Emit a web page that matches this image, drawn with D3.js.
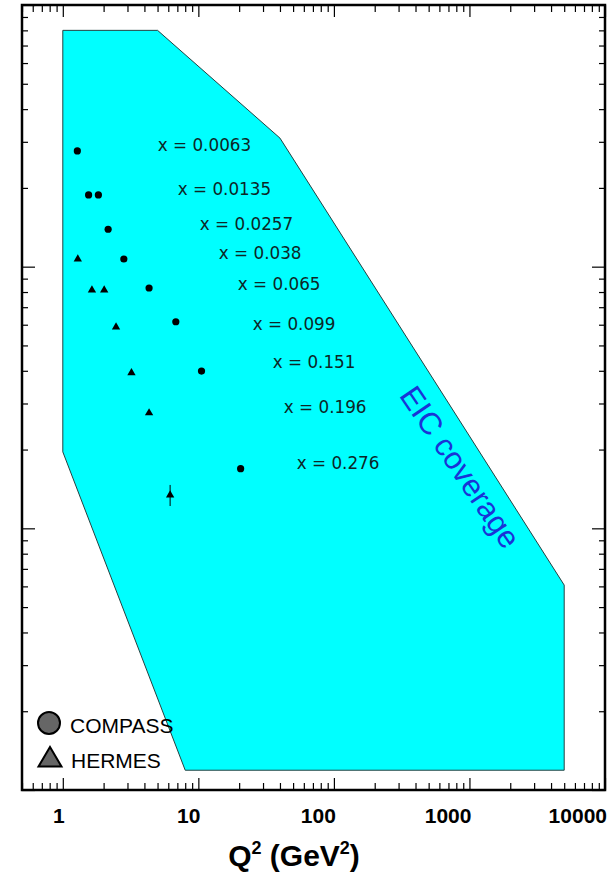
<!DOCTYPE html>
<html>
<head>
<meta charset="utf-8">
<script src="https://cdn.jsdelivr.net/npm/d3@7"></script>
<style>
  body { margin: 0; background: #fff; }
  svg { display: block; }
</style>
</head>
<body>
<svg id="chart" width="615" height="877"></svg>
<script>
// EIC kinematic coverage (outline vertices in Q², y)
const coverageQ2 = [1, 5, 40, 5000, 5000, 8, 1];
const coverageY  = [0.8, 0.8, 0.31, 0.00607, 0.00119, 0.00119, 0.0196];

// COMPASS points
const compassQ2 = [1.28, 1.55, 1.83, 2.16, 2.82, 4.33, 6.82, 10.55, 20.5];
const compassY  = [0.277, 0.188, 0.188, 0.139, 0.107, 0.0829, 0.0616, 0.0399, 0.0169];

// HERMES points (with vertical error band where visible)
const hermesQ2   = [1.29, 1.64, 2.02, 2.47, 3.21, 4.33, 6.19];
const hermesY    = [0.107, 0.0814, 0.0814, 0.0588, 0.0393, 0.0276, 0.0134];
const hermesYLow = [0.107, 0.0814, 0.0814, 0.0588, 0.0393, 0.0276, 0.01217];
const hermesYHigh= [0.107, 0.0814, 0.0814, 0.0588, 0.0393, 0.0276, 0.01465];

// x-bin annotations
const binLabels = ["x = 0.0063", "x = 0.0135", "x = 0.0257", "x = 0.038", "x = 0.065",
                   "x = 0.099", "x = 0.151", "x = 0.196", "x = 0.276"];
const binLabelQ2 = [5.02, 7.05, 10.25, 14.16, 19.55, 25.2, 35.4, 42.7, 53.2];
const binLabelY  = [0.2917, 0.198, 0.1456, 0.1128, 0.0859, 0.0604, 0.0432, 0.0291, 0.01777];

// axis tick labels
const xTickValues = [1, 10, 100, 1000, 10000];
const xTickLabels = ["1", "10", "100", "1000", "10000"];

// coverage caption
const coverageCaption = "EIC coverage";
const captionQ2 = 856;
const captionY = 0.01716;

const svg = d3.select("#chart");
const frame = { left: 22, right: 605, top: 5, bottom: 790 };

const x = d3.scaleLog().domain([0.5, 10000]).range([frame.left, frame.right]);
const y = d3.scaleLog().domain([0.001, 1]).range([frame.bottom, frame.top]);

// coverage region
const coverage = coverageQ2.map((q, i) => [x(q), y(coverageY[i])]);
svg.append("path")
  .attr("d", d3.line()(coverage) + "Z")
  .attr("fill", "#00ffff")
  .attr("stroke", "#264040")
  .attr("stroke-width", 1);

// axes with minor and major ticks
const isMajor = v => Math.abs(Math.log10(v) - Math.round(Math.log10(v))) < 1e-9;
const xTicks = x.ticks();
const yTicks = y.ticks();

function drawAxis(axisGen, scale, ticks, transform, majorLen, minorLen) {
  const minor = ticks.filter(v => !isMajor(v));
  const major = ticks.filter(v => isMajor(v));
  svg.append("g").attr("transform", transform)
    .call(axisGen(scale).tickValues(minor).tickSize(minorLen).tickFormat(""))
    .call(g => g.select(".domain").remove())
    .call(g => g.selectAll("line").attr("stroke", "#000").attr("stroke-width", 1.2));
  svg.append("g").attr("transform", transform)
    .call(axisGen(scale).tickValues(major).tickSize(majorLen).tickFormat(""))
    .call(g => g.select(".domain").remove())
    .call(g => g.selectAll("line").attr("stroke", "#000").attr("stroke-width", 1.2));
}
// bottom/top ticks point inward
drawAxis(d3.axisTop, x, xTicks, `translate(0,${frame.bottom})`, 12, 7);
drawAxis(d3.axisBottom, x, xTicks, `translate(0,${frame.top})`, 12, 7);
// left/right ticks point inward
drawAxis(d3.axisRight, y, yTicks, `translate(${frame.left},0)`, 13, 6);
drawAxis(d3.axisLeft, y, yTicks, `translate(${frame.right},0)`, 13, 6);

// frame
svg.append("rect")
  .attr("x", frame.left).attr("y", frame.top)
  .attr("width", frame.right - frame.left).attr("height", frame.bottom - frame.top)
  .attr("fill", "none").attr("stroke", "#000").attr("stroke-width", 2.5);

// x tick labels
svg.append("g").selectAll("text")
  .data(xTickValues)
  .join("text")
  .attr("x", d => x(d) + 2)
  .attr("y", 823)
  .attr("text-anchor", "end")
  .attr("font-family", "'Liberation Sans', Arial, sans-serif")
  .attr("font-weight", "bold")
  .attr("font-size", 21)
  .text((d, i) => xTickLabels[i]);

// x axis title
const title = svg.append("text")
  .attr("x", 294).attr("y", 866)
  .attr("text-anchor", "middle")
  .attr("font-family", "'Liberation Sans', Arial, sans-serif")
  .attr("font-weight", "bold")
  .attr("font-size", 30);
title.append("tspan").text("Q");
title.append("tspan").attr("font-size", 18).attr("dy", -12).text("2");
title.append("tspan").attr("dy", 12).text(" (GeV");
title.append("tspan").attr("font-size", 18).attr("dy", -12).text("2");
title.append("tspan").attr("dy", 12).text(")");

// x-bin labels
svg.append("g").selectAll("text")
  .data(binLabels)
  .join("text")
  .attr("x", (d, i) => x(binLabelQ2[i]))
  .attr("y", (d, i) => y(binLabelY[i]))
  .attr("dy", "0.36em")
  .attr("font-family", "'DejaVu Sans', sans-serif")
  .attr("font-size", 16.8)
  .attr("fill", "#0d2626")
  .text(d => d);

// coverage caption
svg.append("text")
  .attr("transform", `translate(${x(captionQ2)},${y(captionY)}) rotate(55.8)`)
  .attr("text-anchor", "middle")
  .attr("dy", "0.35em")
  .attr("font-family", "'Liberation Sans', Arial, sans-serif")
  .attr("font-size", 31)
  .attr("fill", "#1a33d6")
  .text(coverageCaption);

// HERMES error bars
svg.append("g").selectAll("line")
  .data(hermesQ2)
  .join("line")
  .attr("x1", d => x(d)).attr("x2", d => x(d))
  .attr("y1", (d, i) => y(hermesYLow[i]))
  .attr("y2", (d, i) => y(hermesYHigh[i]))
  .attr("stroke", "#000").attr("stroke-width", 1);

// COMPASS markers
svg.append("g").selectAll("circle")
  .data(compassQ2)
  .join("circle")
  .attr("cx", d => x(d))
  .attr("cy", (d, i) => y(compassY[i]))
  .attr("r", 3.6)
  .attr("fill", "#000");

// HERMES markers
const tri = d3.symbol().type(d3.symbolTriangle).size(30);
svg.append("g").selectAll("path")
  .data(hermesQ2)
  .join("path")
  .attr("transform", (d, i) => `translate(${x(d)},${y(hermesY[i])})`)
  .attr("d", tri)
  .attr("fill", "#000");

// legend
const legend = svg.append("g");
legend.append("circle")
  .attr("cx", 49).attr("cy", 723).attr("r", 11)
  .attr("fill", "#666").attr("stroke", "#000").attr("stroke-width", 2);
legend.append("path")
  .attr("d", "M50,747 L61.5,766.5 L38.5,766.5 Z")
  .attr("fill", "#666").attr("stroke", "#000").attr("stroke-width", 2)
  .attr("stroke-linejoin", "miter");
legend.append("text")
  .attr("x", 70).attr("y", 725).attr("dy", "0.36em")
  .attr("font-family", "'Liberation Sans', Arial, sans-serif")
  .attr("font-size", 21).attr("fill", "#000")
  .text("COMPASS");
legend.append("text")
  .attr("x", 71).attr("y", 760).attr("dy", "0.36em")
  .attr("font-family", "'Liberation Sans', Arial, sans-serif")
  .attr("font-size", 21).attr("fill", "#000")
  .text("HERMES");
</script>
</body>
</html>
